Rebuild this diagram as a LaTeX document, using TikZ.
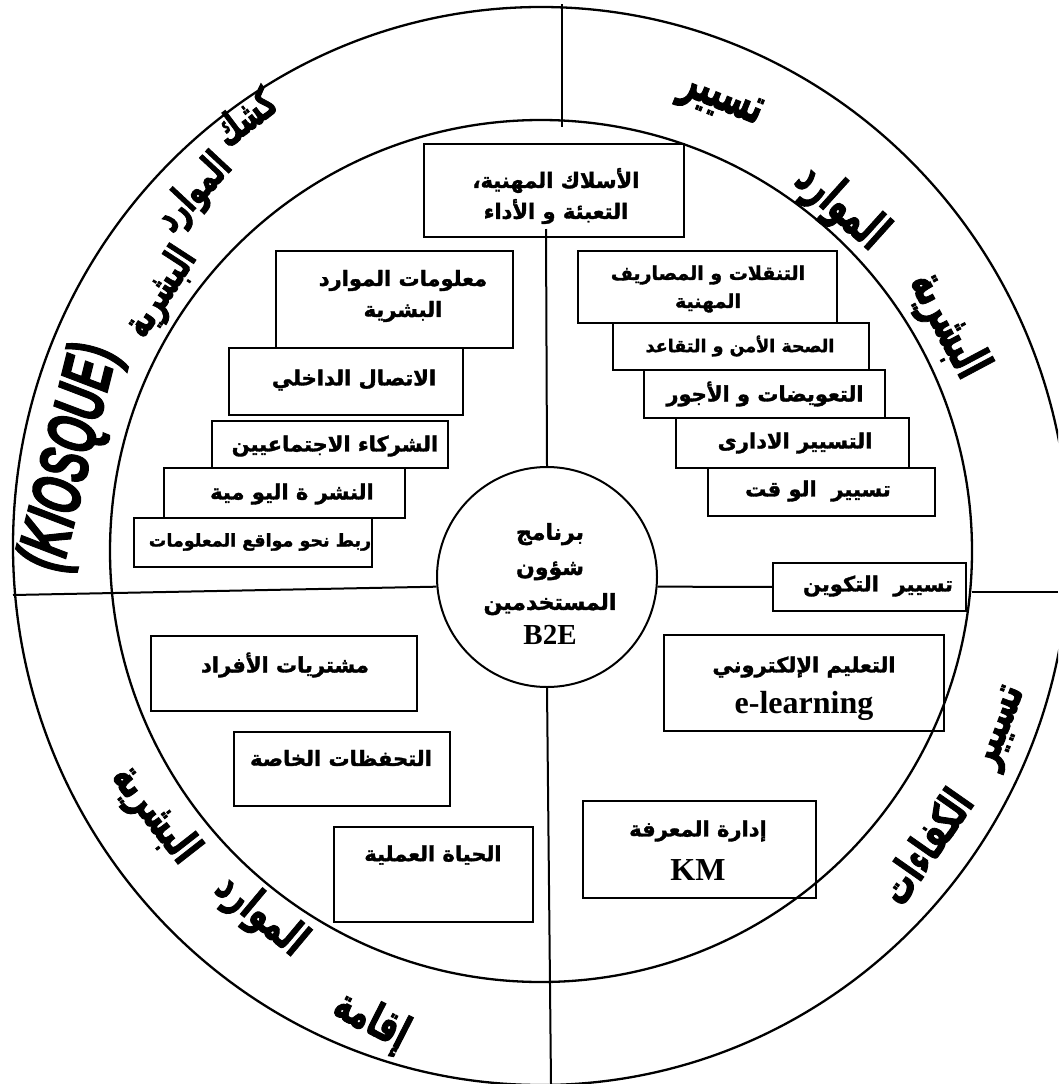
\documentclass[tikz,border=0pt]{standalone}
\usepackage{fontspec}
\setmainfont{Liberation Serif}
\newfontfamily\arfont[Script=Arabic, FakeBold=1.6]{DejaVu Sans Bold}
\newfontfamily\arheavy[Script=Arabic, FakeBold=2.5]{DejaVu Sans Bold}
\newfontfamily\kiosk[FakeBold=2]{Liberation Sans Bold Italic}
\TeXXeTstate=1
\newcommand{\ar}[1]{\beginR#1\endR}

\begin{document}
\begin{tikzpicture}[x=1pt, y=-1pt,
  panel/.style={draw, line width=1.8pt, inner sep=0pt, anchor=north west},
  label/.style={font=\arfont\fontsize{21}{31}\selectfont, align=center, inner sep=0pt},
  small/.style={font=\arfont\fontsize{17.5}{24}\selectfont, inner sep=0pt},
  latin/.style={font=\bfseries\fontsize{32}{34}\selectfont, inner sep=0pt},
  ringword/.style={font=\arheavy\fontsize{30}{30}\selectfont, inner sep=0pt},
  rim/.style={line width=2.3pt},
  divider/.style={line width=2pt}
]
\useasboundingbox (0,0) rectangle (1058,1084);
\clip (0,0) rectangle (1058,1084);
\fill[white] (0,0) rectangle (1058,1084);

% outer and inner rings
\draw[rim] (541,546) ellipse [x radius=528pt, y radius=539pt];
\draw[rim] (541,551) circle [radius=431pt];

% central hub
\node[draw, circle, minimum size=220pt, line width=2pt, inner sep=0pt] (hub) at (547,577) {};
\node[align=center, inner sep=0pt, font=\arfont\fontsize{22}{35}\selectfont] (hubtext) at (550,584)
  {\ar{برنامج}\\ \ar{شؤون}\\ \ar{المستخدمين}\\ {\rmfamily\bfseries\fontsize{29}{35}\selectfont B2E}};

% top panel
\node[panel, minimum width=260pt, minimum height=93pt] (careers) at (423,143) {};
\node[label] (careers-t) at (556,196) {\ar{الأسلاك المهنية،}\\ \ar{التعبئة و الأداء}};

% left stack
\node[panel, minimum width=237pt, minimum height=97pt] (hrinfo) at (275,250) {};
\node[label] (hrinfo-t) at (403,296) {\ar{معلومات الموارد}\\ \ar{البشرية}};
\node[panel, minimum width=234pt, minimum height=67pt] (intcom) at (228,347) {};
\node[label] (intcom-t) at (354,380) {\ar{الاتصال الداخلي}};
\node[panel, minimum width=236pt, minimum height=47pt] (partners) at (211,420) {};
\node[label] (partners-t) at (335,446) {\ar{الشركاء الاجتماعيين}};
\node[panel, minimum width=241pt, minimum height=50pt] (daily) at (163,467) {};
\node[label] (daily-t) at (292,494) {\ar{النشر ة اليو مية}};
\node[panel, minimum width=238pt, minimum height=49pt] (links) at (133,517) {};
\node[small] (links-t) at (260,542) {\ar{ربط نحو مواقع المعلومات}};

% right stack
\node[panel, minimum width=259pt, minimum height=72pt] (travel) at (577,250) {};
\node[label, font=\arfont\fontsize{19}{28}\selectfont] (travel-t) at (708,289) {\ar{التنقلات و المصاريف}\\ \ar{المهنية}};
\node[panel, minimum width=256pt, minimum height=47pt] (health) at (612,322) {};
\node[small] (health-t) at (740,346) {\ar{الصحة الأمن و التقاعد}};
\node[panel, minimum width=241pt, minimum height=48pt] (pay) at (643,369) {};
\node[label] (pay-t) at (765,394) {\ar{التعويضات و الأجور}};
\node[panel, minimum width=233pt, minimum height=50pt] (admin) at (675,417) {};
\node[label] (admin-t) at (795,443) {\ar{التسيير الادارى}};
\node[panel, minimum width=227pt, minimum height=48pt] (time) at (707,467) {};
\node[label] (time-t) at (818,491) {\ar{تسيير\ \ الو قت}};
\node[panel, minimum width=193pt, minimum height=48pt] (train) at (772,562) {};
\node[label] (train-t) at (878,586) {\ar{تسيير\ \ التكوين}};

% lower left
\node[panel, minimum width=266pt, minimum height=75pt] (purch) at (150,635) {};
\node[label] (purch-t) at (285,665) {\ar{مشتريات الأفراد}};
\node[panel, minimum width=216pt, minimum height=74pt] (reserve) at (233,731) {};
\node[label] (reserve-t) at (341,758) {\ar{التحفظات الخاصة}};
\node[panel, minimum width=199pt, minimum height=95pt] (worklife) at (333,826) {};
\node[label] (worklife-t) at (433,855) {\ar{الحياة العملية}};

% lower right
\node[panel, minimum width=280pt, minimum height=96pt] (elearn) at (663,634) {};
\node[label] (elearn-t) at (804,667) {\ar{التعليم الإلكتروني}};
\node[latin] (elearn-l) at (804,706) {e-learning};
\node[panel, minimum width=233pt, minimum height=97pt] (km) at (582,800) {};
\node[label] (km-t) at (698,831) {\ar{إدارة المعرفة}};
\node[latin] (km-l) at (698,870) {KM};

% dividing lines
\coordinate (topend) at (562,4);
\coordinate (topin) at (562,127);
\coordinate (leftend) at (13,595);
\coordinate (rightin) at (972,592);
\coordinate (rightend) at (1058,592);
\coordinate (bottomend) at (551,1084);
\coordinate (careersfoot) at (546,229);
\draw[divider] (topend) -- (topin);
\draw[divider] (careersfoot) -- (hub.north);
\draw[divider] (leftend) -- (hub.185);
\draw[divider] (hub.355) -- (train.west);
\draw[divider] (rightin) -- (rightend);
\draw[divider] (hub.south) -- (bottomend);

% ring titles, placed word by word around the ring centre
% (rotation first, then the vertical stretch in the word's own frame)
\node[rotate=76, font=\kiosk\fontsize{70}{70}\selectfont, xscale=0.62, inner sep=0pt] (kiosque) at (72,458) {(KIOSQUE)};
\begin{scope}[shift={(541,546)}, y=1pt]
  % upper left quarter
  \node[ringword, font=\arheavy\fontsize{26}{26}\selectfont, rotate=57, yscale=1.6] (kw2) at (146.3:456) {\ar{البشرية}};
  \node[ringword, font=\arheavy\fontsize{26}{26}\selectfont, rotate=47, yscale=1.6] (kw3) at (134.5:494) {\ar{الموارد}};
  \node[ringword, font=\arheavy\fontsize{26}{26}\selectfont, rotate=37, yscale=1.6] (kw4) at (124.6:522) {\ar{كشك}};
  % lower left quarter
  \node[ringword, rotate=-52, yscale=1.5] (iw1) at (214.8:471) {\ar{البشرية}};
  \node[ringword, rotate=-40, yscale=1.5] (iw2) at (232.8:464) {\ar{الموارد}};
  \node[ringword, rotate=-27, yscale=1.5] (iw3) at (250.3:505) {\ar{إقامة}};
  % lower right quarter
  \node[ringword, rotate=55, yscale=1.5] (cw2) at (-38:487) {\ar{الكفاءات}};
  \node[ringword, rotate=69, yscale=1.5] (cw1) at (-21.5:497) {\ar{تسيير}};
  % upper right quarter
  \node[ringword, rotate=-22, yscale=1.7] (aw1) at (68:478) {\ar{تسيير}};
  \node[ringword, rotate=-42, yscale=1.7] (aw2) at (48.5:452) {\ar{الموارد}};
  \node[ringword, rotate=-62, yscale=1.7] (aw3) at (28.5:462) {\ar{البشرية}};
\end{scope}
\end{tikzpicture}
\end{document}
